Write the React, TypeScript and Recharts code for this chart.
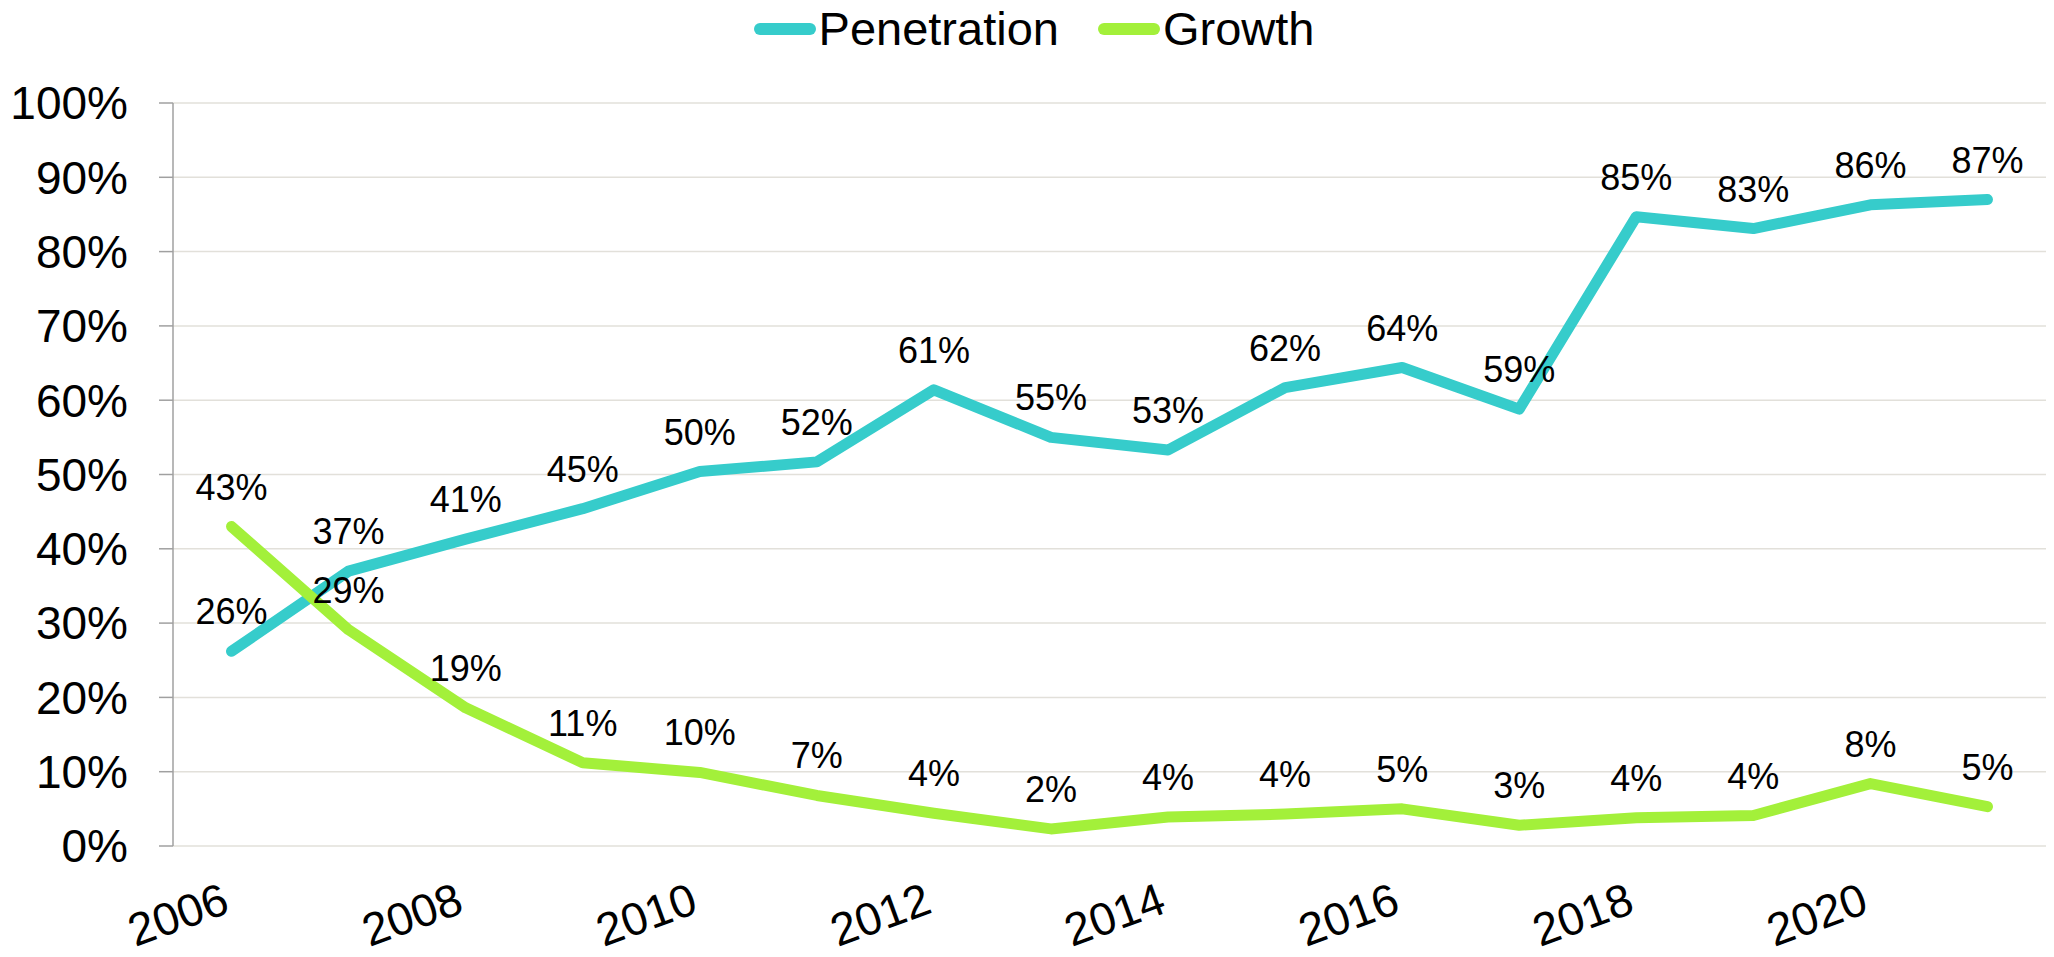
import React from 'react';
import {
  LineChart,
  Line,
  XAxis,
  YAxis,
  CartesianGrid,
  Legend,
  LabelList,
} from 'recharts';

const years = [
  '2006', '2007', '2008', '2009', '2010', '2011', '2012', '2013',
  '2014', '2015', '2016', '2017', '2018', '2019', '2020', '2021',
];
const penetration = [
  26.2, 37.0, 41.3, 45.4, 50.4, 51.7, 61.4, 55.0,
  53.3, 61.7, 64.4, 58.8, 84.7, 83.1, 86.3, 87.0,
];
const growth = [
  43.0, 29.1, 18.6, 11.2, 9.9, 6.8, 4.4, 2.3,
  3.9, 4.3, 5.0, 2.8, 3.8, 4.1, 8.4, 5.3,
];
const yTicks = [0, 10, 20, 30, 40, 50, 60, 70, 80, 90, 100];

const series = [
  { key: 'penetration', name: 'Penetration', color: '#36CCCB' },
  { key: 'growth', name: 'Growth', color: '#A3F03A' },
];

// points sit in the middle of each year slot, tick marks on the slot edges
const data = years.map((year, i) => ({
  x: i + 0.5,
  year,
  penetration: penetration[i],
  growth: growth[i],
}));
const edgeTicks = years.map((_, i) => i).concat(years.length);
const labelTicks = years.map((_, i) => i + 0.5).filter((_, i) => i % 2 === 0);

const FONT = '"Liberation Sans", Arial, sans-serif';
const AXIS = '#A0A0A0';

const YearTick = ({ x, y, payload }: any) => (
  <text
    x={x}
    y={y}
    transform={`rotate(-20, ${x}, ${y})`}
    textAnchor="end"
    fontSize={46}
    fontFamily={FONT}
    fill="#000"
  >
    {years[Math.floor(payload.value)]}
  </text>
);

const LegendContent = () => (
  <div
    style={{
      display: 'flex',
      justifyContent: 'center',
      alignItems: 'center',
      height: 58,
      paddingLeft: 14,
      fontFamily: FONT,
      fontSize: 47,
      color: '#000',
    }}
  >
    {series.map((s, i) => (
      <div
        key={s.key}
        style={{ display: 'flex', alignItems: 'center', marginLeft: i ? 39 : 0 }}
      >
        <div
          style={{
            width: 62,
            height: 12,
            borderRadius: 6,
            background: s.color,
            marginRight: 3,
          }}
        />
        <span style={{ lineHeight: '58px' }}>{s.name}</span>
      </div>
    ))}
  </div>
);

export default function App() {
  return (
    <div style={{ position: 'absolute', left: 0, top: 0, background: '#fff' }}>
      <LineChart
        width={2054}
        height={957}
        data={data}
        margin={{ top: 45, right: 8, bottom: 0, left: 0 }}
      >
        <CartesianGrid
          xAxisId="edges"
          vertical={false}
          stroke="#E2E0DA"
          strokeWidth={1.5}
        />
        <XAxis
          xAxisId="edges"
          type="number"
          dataKey="x"
          domain={[0, years.length]}
          ticks={edgeTicks}
          tick={() => <g />}
          tickSize={14}
          height={0}
          stroke={AXIS}
          strokeWidth={1.5}
        />
        <XAxis
          xAxisId="labels"
          type="number"
          dataKey="x"
          domain={[0, years.length]}
          ticks={labelTicks}
          tick={YearTick}
          axisLine={false}
          tickLine={false}
          tickSize={0}
          tickMargin={66}
          height={111}
        />
        <YAxis
          domain={[0, 100]}
          ticks={yTicks}
          tickFormatter={(v) => `${v}%`}
          width={173}
          tickSize={14}
          tickMargin={31}
          stroke={AXIS}
          strokeWidth={1.5}
          tick={{ fontSize: 46, fontFamily: FONT, fill: '#000' }}
        />
        <Legend
          verticalAlign="top"
          content={LegendContent}
          wrapperStyle={{ top: 0, left: 0, width: 2054 }}
        />
        {series.map((s) => (
          <Line
            key={s.key}
            xAxisId="edges"
            dataKey={s.key}
            name={s.name}
            stroke={s.color}
            strokeWidth={11}
            strokeLinecap="round"
            strokeLinejoin="round"
            dot={false}
            activeDot={false}
            isAnimationActive={false}
          >
            <LabelList
              dataKey={s.key}
              position="top"
              offset={27}
              formatter={(v: any) => `${Math.round(v)}%`}
              style={{ fontSize: 36, fontFamily: FONT, fill: '#000' }}
            />
          </Line>
        ))}
      </LineChart>
    </div>
  );
}
